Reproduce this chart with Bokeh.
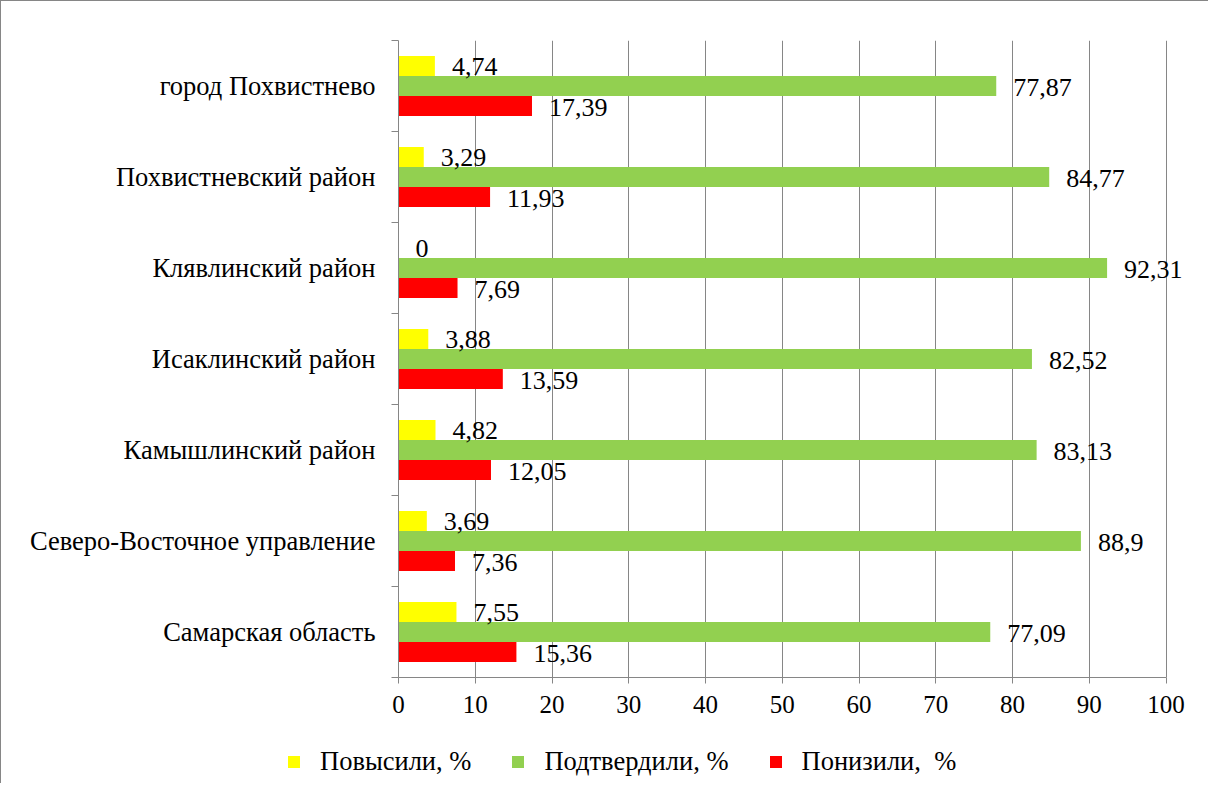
from bokeh.plotting import figure
from bokeh.layouts import column
from bokeh.models import (ColumnDataSource, Range1d, LinearAxis, FixedTicker, Legend, LegendItem, Grid)
from bokeh.core.properties import value
from bokeh.embed import file_html
from bokeh.resources import INLINE

# Data (bottom to top)
categories = ["Самарская область", "Северо-Восточное управление", "Камышлинский район",
              "Исаклинский район", "Клявлинский район", "Похвистневский район", "город Похвистнево"]
raised = [7.55, 3.69, 4.82, 3.88, 0, 3.29, 4.74]
confirmed = [77.09, 88.9, 83.13, 82.52, 92.31, 84.77, 77.87]
lowered = [15.36, 7.36, 12.05, 13.59, 7.69, 11.93, 17.39]
series_names = ["Повысили, %", "Подтвердили, %", "Понизили,  %"]
colors = ["#FFFF00", "#92D050", "#FF0000"]
x_ticks = [0, 10, 20, 30, 40, 50, 60, 70, 80, 90, 100]

FONT = "Liberation Serif, Times New Roman, serif"
GRAY = "#868686"
BAR_H = 0.22

def fmt(v):
    s = ("%g" % v)
    return s.replace(".", ",")

pos = list(range(len(categories)))

p = figure(width=1208, height=729, output_backend="svg", toolbar_location=None,
           x_range=Range1d(0, 105), y_range=Range1d(-0.5, len(categories) - 0.5),
           x_axis_location=None, y_axis_location=None,
           min_border_left=397, min_border_right=5, min_border_top=39, min_border_bottom=53)
p.frame_align = False
p.styles = {"border-left": "1px solid " + GRAY, "border-top": "1px solid " + GRAY}
p.outline_line_color = None
p.background_fill_color = "white"
p.border_fill_color = "white"

# x axis
xaxis = LinearAxis(ticker=FixedTicker(ticks=x_ticks), bounds=(0, 100))
xaxis.axis_line_color = GRAY
xaxis.major_tick_line_color = GRAY
xaxis.major_tick_out = 6
xaxis.major_tick_in = 0
xaxis.minor_tick_line_color = None
xaxis.major_label_text_font = FONT
xaxis.major_label_text_font_size = "25px"
xaxis.major_label_text_color = "black"
xaxis.major_label_standoff = 12
p.add_layout(xaxis, "below")

# y axis with ticks at category boundaries (no labels)
boundaries = [i - 0.5 for i in range(len(categories) + 1)]
ytick_axis = LinearAxis(ticker=FixedTicker(ticks=boundaries))
ytick_axis.major_label_overrides = {b: "" for b in boundaries}
ytick_axis.axis_line_color = GRAY
ytick_axis.major_tick_line_color = GRAY
ytick_axis.major_tick_out = 7
ytick_axis.major_tick_in = 0
ytick_axis.minor_tick_line_color = None
ytick_axis.major_label_text_font_size = "1px"
ytick_axis.major_label_standoff = 0
p.add_layout(ytick_axis, "left")

# y axis with category labels
ylab_axis = LinearAxis(ticker=FixedTicker(ticks=pos))
ylab_axis.major_label_overrides = {i: c for i, c in enumerate(categories)}
ylab_axis.axis_line_color = None
ylab_axis.major_tick_line_color = None
ylab_axis.minor_tick_line_color = None
ylab_axis.major_label_text_font = FONT
ylab_axis.major_label_text_font_size = "26.5px"
ylab_axis.major_label_text_color = "black"
ylab_axis.major_label_standoff = 10
p.add_layout(ylab_axis, "left")

# grid
p.xgrid.visible = False
p.ygrid.visible = False
p.add_layout(Grid(dimension=0, ticker=FixedTicker(ticks=x_ticks), grid_line_color=GRAY, grid_line_width=1))

src = ColumnDataSource(dict(
    pos=pos,
    y_r=[v + BAR_H for v in pos], y_c=pos, y_l=[v - BAR_H for v in pos],
    raised=raised, confirmed=confirmed, lowered=lowered,
    t_r=[fmt(v) for v in raised], t_c=[fmt(v) for v in confirmed], t_l=[fmt(v) for v in lowered],
))

for key, ycol, col in [("raised", "y_r", colors[0]), ("confirmed", "y_c", colors[1]), ("lowered", "y_l", colors[2])]:
    p.hbar(y=ycol, left=0, right=key, height=BAR_H, source=src, fill_color=col, line_color=None)

for key, ycol in [("t_r", "y_r"), ("t_c", "y_c"), ("t_l", "y_l")]:
    xcol = {"t_r": "raised", "t_c": "confirmed", "t_l": "lowered"}[key]
    p.text(x=xcol, y=ycol, text=key, source=src, x_offset=17, y_offset=1,
           text_font=value(FONT), text_font_size="26px", text_baseline="middle",
           text_align="left", text_color="black")

# legend figure
lg = figure(width=1208, height=54, output_backend="svg", toolbar_location=None,
            x_range=Range1d(0, 1), y_range=Range1d(0, 1),
            x_axis_location=None, y_axis_location=None,
            min_border_left=0, min_border_right=0, min_border_top=0, min_border_bottom=0)
lg.frame_align = False
lg.styles = {"border-left": "1px solid " + GRAY}
lg.outline_line_color = None
lg.xgrid.visible = False
lg.ygrid.visible = False
lg.border_fill_color = "white"
lrs = []
for col in colors:
    lrs.append(lg.hbar(y=[-10], left=[0], right=[0.5], height=0.1, fill_color=col, line_color=None))

legend = Legend(items=[LegendItem(label=n, renderers=[r]) for n, r in zip(series_names, lrs)],
                orientation="horizontal", location=(285, 6))
legend.label_text_font = FONT
legend.label_text_font_size = "26.5px"
legend.label_text_color = "black"
legend.glyph_width = 15
legend.glyph_height = 15
legend.label_standoff = 19
legend.spacing = 39
legend.border_line_color = None
legend.background_fill_alpha = 0
legend.padding = 0
legend.margin = 0
lg.add_layout(legend, "center")

layout = column(p, lg, spacing=0)
open("out.html", "w").write(file_html(layout, INLINE))
